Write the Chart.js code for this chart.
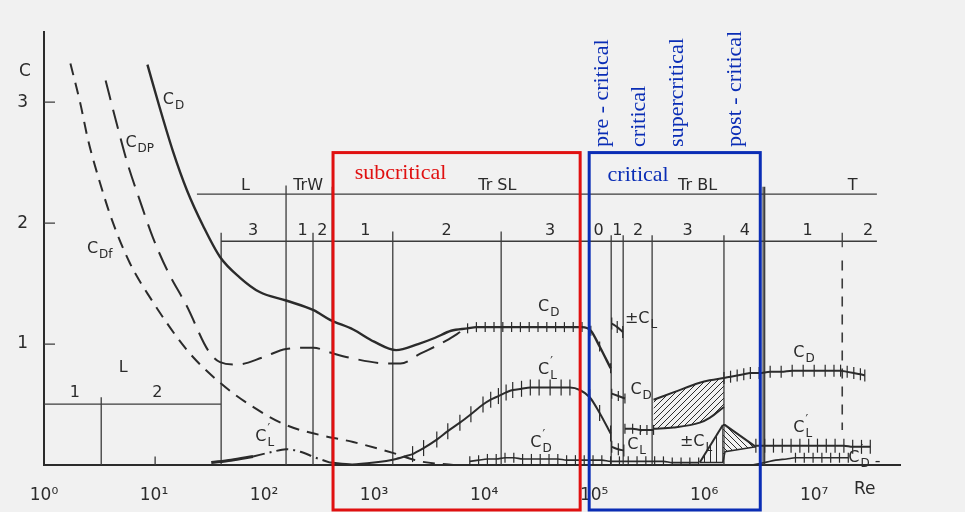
<!DOCTYPE html>
<html>
<head>
<meta charset="utf-8">
<script src="https://cdn.jsdelivr.net/npm/chart.js@4.4.0/dist/chart.umd.min.js"></script>
<style>
    html, body { margin: 0; padding: 0; background: #f1f1f1; }
    canvas { display: block; }
</style>
</head>
<body>
<canvas id="dragChart" width="965" height="512"></canvas>
<script>
/* ------------------------------------------------------------------
   DATA  (x = log10(Re), y = coefficient C)
------------------------------------------------------------------ */
// C_D
const cdLog = [0.94, 1.05, 1.17, 1.30, 1.45, 1.60, 1.78, 1.96, 2.20, 2.45, 2.60, 2.81, 3.00, 3.20, 3.40, 3.55, 3.70, 3.85];
const cdVal = [3.31, 2.96, 2.60, 2.27, 1.97, 1.72, 1.55, 1.43, 1.36, 1.28, 1.20, 1.12, 1.02, 0.95, 1.00, 1.05, 1.11, 1.13];
const cdSubLog = [3.85, 3.93, 4.01, 4.09, 4.17, 4.25, 4.33, 4.41, 4.49, 4.57, 4.65, 4.73, 4.81, 4.89, 4.97, 5.05, 5.15];
const cdSubVal = [1.13, 1.14, 1.14, 1.14, 1.14, 1.14, 1.14, 1.14, 1.14, 1.14, 1.14, 1.14, 1.14, 1.14, 1.11, 0.98, 0.80];
const cdCritLog = [5.16, 5.22, 5.28, 5.28, 5.28, 5.35, 5.42, 5.48, 5.54];
const cdCritVal = [0.59, 0.57, 0.55, null, 0.30, 0.30, 0.29, 0.29, 0.29];
const cdBandLog = [5.54, 5.72, 5.96, 6.05, 6.18];
const cdBandHigh = [0.54, 0.60, 0.68, 0.70, 0.72];
const cdBandLow = [0.30, 0.31, 0.35, 0.39, 0.48];
const cdPostLog = [6.18, 6.24, 6.30, 6.36, 6.42, 6.50, 6.60, 6.70, 6.80, 6.90, 7.00, 7.10, 7.18, 7.24, 7.30, 7.36, 7.42, 7.46];
const cdPostVal = [0.72, 0.73, 0.74, 0.75, 0.76, 0.76, 0.77, 0.77, 0.78, 0.78, 0.78, 0.78, 0.78, 0.78, 0.77, 0.76, 0.75, 0.74];

// C_Dp (pressure) and C_Df (friction)
const cdpLog = [0.56, 0.67, 0.76, 0.87, 0.99, 1.12, 1.30, 1.49, 1.60, 1.75, 1.99, 2.20, 2.45, 2.60, 2.81, 3.12, 3.24, 3.42, 3.66, 3.80];
const cdpVal = [3.18, 2.79, 2.49, 2.19, 1.88, 1.61, 1.31, 0.95, 0.85, 0.83, 0.89, 0.96, 0.97, 0.93, 0.88, 0.84, 0.84, 0.92, 1.03, 1.11];
const cdfLog = [0.24, 0.33, 0.40, 0.51, 0.62, 0.78, 0.96, 1.30, 1.60, 1.90, 2.20, 2.50, 2.81, 3.17, 3.42, 3.72];
const cdfVal = [3.32, 2.99, 2.69, 2.33, 2.02, 1.67, 1.39, 0.95, 0.68, 0.48, 0.33, 0.25, 0.19, 0.10, 0.03, 0.00];

// C'_L
const clLowLog = [1.52, 1.70, 1.90];
const clLowVal = [0.02, 0.04, 0.07];
const clWakeLog = [1.90, 2.08, 2.20, 2.33, 2.47, 2.60];
const clWakeVal = [0.07, 0.11, 0.13, 0.11, 0.06, 0.02];
const clRiseLog = [2.60, 2.80, 3.00, 3.20, 3.35];
const clRiseVal = [0.02, 0.005, 0.02, 0.05, 0.09];
const clSubLog = [3.35, 3.45, 3.57, 3.67, 3.78, 3.88, 3.99, 4.06, 4.13, 4.20, 4.26, 4.34, 4.42, 4.50, 4.60, 4.70, 4.78, 4.87, 4.96, 5.05, 5.15];
const clSubVal = [0.09, 0.14, 0.21, 0.28, 0.35, 0.42, 0.50, 0.54, 0.57, 0.60, 0.62, 0.63, 0.64, 0.64, 0.64, 0.64, 0.64, 0.62, 0.56, 0.43, 0.26];
const clCritLog = [5.16, 5.22, 5.27];
const clCritVal = [0.15, 0.13, 0.12];
const clPostLog = [6.47, 6.55, 6.63, 6.71, 6.79, 6.87, 6.95, 7.03, 7.11, 7.19, 7.27, 7.35, 7.43, 7.51];
const clPostVal = [0.16, 0.16, 0.16, 0.16, 0.16, 0.16, 0.16, 0.16, 0.16, 0.16, 0.16, 0.15, 0.15, 0.15];

// ±C_L
const clPmTopLog = [5.16, 5.21, 5.26];
const clPmTopVal = [1.17, 1.14, 1.10];
const clPmLog = [5.96, 6.17, 6.19, 6.47];
const clPmHigh = [0.02, 0.33, 0.33, 0.15];
const clPmLow = [0.02, 0.02, 0.11, 0.15];

// C'_D
const cdFlucLog = [3.87, 3.95, 4.03, 4.11, 4.19, 4.27, 4.35, 4.43, 4.51, 4.59, 4.67, 4.75, 4.83, 4.91, 4.99, 5.07, 5.15, 5.23, 5.31, 5.39, 5.47, 5.55, 5.63, 5.71, 5.79, 5.87, 5.95];
const cdFlucVal = [0.03, 0.04, 0.05, 0.05, 0.06, 0.06, 0.05, 0.05, 0.05, 0.05, 0.05, 0.04, 0.04, 0.04, 0.04, 0.04, 0.03, 0.03, 0.03, 0.03, 0.03, 0.03, 0.03, 0.02, 0.02, 0.02, 0.02];
const cdFlucPostLog = [6.43, 6.55, 6.65, 6.75, 6.83, 6.91, 6.99, 7.07, 7.15, 7.23, 7.31];
const cdFlucPostVal = [0.00, 0.02, 0.04, 0.05, 0.06, 0.06, 0.06, 0.06, 0.06, 0.06, 0.06];

// flow regimes: boundaries (log Re) and the level (C) where each divider starts
const splitLog = [0.52, 1.61, 2.20, 2.445, 2.62, 3.17, 4.155, 4.955, 5.155, 5.264, 5.527, 6.18, 6.536, 6.55];
const splitTop = [0.56, 1.92, 2.31, 1.92, 2.30, 1.93, 1.93, 2.30, 1.90, 1.90, 1.90, 1.90, 2.30, 2.30];
const rowFrom = [1.39, 1.61, 0.0];
const rowTo = [7.57, 7.57, 1.61];
const rowLevel = [2.24, 1.85, 0.504];

const regimeNames = ['L', 'TrW', 'Tr SL', 'Tr BL', 'T'];
const regimeLog = [1.83, 2.40, 4.12, 5.94, 7.35];
const stageNames = ['3', '1', '2', '1', '2', '3', '0', '1', '2', '3', '4', '1', '2'];
const stageLog = [1.90, 2.35, 2.53, 2.92, 3.66, 4.60, 5.04, 5.21, 5.40, 5.85, 6.37, 6.94, 7.49];

// highlighted ranges (log Re)
const subcriticalRange = [2.627, 4.873];
const criticalRange = [4.955, 6.51];

const xTicks = [0, 1, 2, 3, 4, 5, 6, 7];
const yTicks = [1, 2, 3];

/* ------------------------------------------------------------------
   HELPERS
------------------------------------------------------------------ */
const ink = '#2b2b2b';
const supDigits = ['⁰', '¹', '²', '³', '⁴', '⁵', '⁶', '⁷', '⁸'];
const canvas = document.getElementById('dragChart');
const ctx = canvas.getContext('2d');

function series(logs, vals) {
    return logs.map((v, i) => ({ x: Math.pow(10, v), y: vals[i] }));
}

function hatch(kind) {
    const c = document.createElement('canvas');
    c.width = 6; c.height = 6;
    const g = c.getContext('2d');
    g.strokeStyle = ink;
    g.lineWidth = 1;
    g.beginPath();
    if (kind === 'slash') {
        g.moveTo(0, 6); g.lineTo(6, 0);
        g.moveTo(-1, 1); g.lineTo(1, -1);
        g.moveTo(5, 7); g.lineTo(7, 5);
    } else if (kind === 'back') {
        g.moveTo(0, 0); g.lineTo(6, 6);
        g.moveTo(5, -1); g.lineTo(7, 1);
        g.moveTo(-1, 5); g.lineTo(1, 7);
    } else {
        g.moveTo(2.5, 0); g.lineTo(2.5, 6);
    }
    g.stroke();
    return ctx.createPattern(c, 'repeat');
}

const plain = {
    borderColor: ink, backgroundColor: ink, borderWidth: 2,
    pointRadius: 0, fill: false, cubicInterpolationMode: 'monotone'
};
const marked = (r) => ({
    ...plain, pointStyle: 'line', rotation: 90, pointRadius: r,
    pointBorderWidth: 1.2, pointBorderColor: ink
});

const vertPattern = hatch('vert');
const backPattern = hatch('back');

/* ------------------------------------------------------------------
   ANNOTATIONS
------------------------------------------------------------------ */
const curveNotes = [
    { lg: 1.08, c: 3.02, sub: 'D' },
    { lg: 0.74, c: 2.66, sub: 'DP' },
    { lg: 0.39, c: 1.79, sub: 'Df' },
    { lg: 1.92, c: 0.23, sub: 'L', prime: true },
    { lg: 4.49, c: 1.31, sub: 'D' },
    { lg: 4.49, c: 0.79, sub: 'L', prime: true },
    { lg: 4.42, c: 0.18, sub: 'D', prime: true },
    { lg: 5.28, c: 1.21, sub: 'L', prefix: '±' },
    { lg: 5.33, c: 0.62, sub: 'D' },
    { lg: 5.30, c: 0.17, sub: 'L', prime: true },
    { lg: 5.78, c: 0.19, sub: 'L', prefix: '±' },
    { lg: 6.81, c: 0.93, sub: 'D' },
    { lg: 6.81, c: 0.31, sub: 'L', prime: true },
    { lg: 7.31, c: 0.06, sub: 'D', prime: true, suffix: ' -' }
];

const rotatedNotes = [
    { lg: 5.07, text: 'pre - critical' },
    { lg: 5.41, text: 'critical' },
    { lg: 5.755, text: 'supercritical' },
    { lg: 6.28, text: 'post - critical' }
];

function coefLabel(g, x, y, note) {
    let cx = x;
    g.textAlign = 'left';
    g.textBaseline = 'middle';
    g.font = '16px "DejaVu Sans"';
    if (note.prefix) {
        g.fillText(note.prefix, cx, y);
        cx += g.measureText(note.prefix).width;
    }
    g.fillText('C', cx, y);
    cx += g.measureText('C').width + 1;
    g.font = '12px "DejaVu Sans"';
    g.fillText(note.sub, cx, y + 6);
    if (note.prime) g.fillText('′', cx, y - 8);
    if (note.suffix) {
        const w = g.measureText(note.sub).width;
        g.font = '16px "DejaVu Sans"';
        g.fillText(note.suffix, cx + w, y + 4);
    }
}

// -------------------------------
// regime grid under the curves
// -------------------------------
const regimeGrid = {
    id: 'regimeGrid',
    beforeDatasetsDraw(chart) {
        const g = chart.ctx;
        const xs = chart.scales.x, ys = chart.scales.y;
        const px = lg => xs.getPixelForValue(Math.pow(10, lg));
        const py = c => ys.getPixelForValue(c);
        g.save();
        g.strokeStyle = '#3c3c3c';
        g.lineWidth = 1.3;
        g.beginPath();
        rowLevel.forEach((lvl, i) => {
            g.moveTo(px(rowFrom[i]), py(lvl));
            g.lineTo(px(rowTo[i]), py(lvl));
        });
        splitLog.forEach((lg, i) => {
            g.moveTo(px(lg), py(splitTop[i]));
            g.lineTo(px(lg), py(0));
        });
        // small marks: 10^1 on the axis, T1 / T2 split
        g.moveTo(px(1.01), py(0)); g.lineTo(px(1.01), py(0.07));
        g.moveTo(px(7.255), py(1.92)); g.lineTo(px(7.255), py(1.80));
        // inner ticks of the C axis
        yTicks.forEach(v => {
            g.moveTo(chart.chartArea.left, py(v));
            g.lineTo(chart.chartArea.left + 11, py(v));
        });
        g.stroke();
        // dashed marker at the end of the transcritical data
        g.setLineDash([10, 8]);
        g.lineWidth = 1.6;
        g.beginPath();
        g.moveTo(px(7.255), py(1.69));
        g.lineTo(px(7.255), py(0.29));
        g.stroke();
        g.setLineDash([]);

        g.fillStyle = ink;
        g.textAlign = 'center';
        g.textBaseline = 'middle';
        g.font = '16px "DejaVu Sans"';
        regimeNames.forEach((t, i) => g.fillText(t, px(regimeLog[i]), py(2.31)));
        stageNames.forEach((t, i) => g.fillText(t, px(stageLog[i]), py(1.94)));
        g.fillText('L', px(0.72), py(0.80));
        g.fillText('1', px(0.28), py(0.60));
        g.fillText('2', px(1.03), py(0.60));
        g.restore();
    }
};

// -------------------------------
// boxes, names and axis titles on top
// -------------------------------
const overlay = {
    id: 'overlay',
    afterDraw(chart) {
        const g = chart.ctx;
        const xs = chart.scales.x, ys = chart.scales.y;
        const px = lg => xs.getPixelForValue(Math.pow(10, lg));
        const py = c => ys.getPixelForValue(c);
        g.save();
        g.fillStyle = ink;
        curveNotes.forEach(n => coefLabel(g, px(n.lg), py(n.c), n));

        g.font = '17px "DejaVu Sans"';
        g.textAlign = 'center';
        g.textBaseline = 'middle';
        g.fillText('C', chart.chartArea.left - 19, py(3.25));
        g.fillText('Re', px(7.46), py(0) + 25);

        g.lineWidth = 3;
        g.strokeStyle = '#e01010';
        g.strokeRect(px(subcriticalRange[0]), py(2.583), px(subcriticalRange[1]) - px(subcriticalRange[0]), py(-0.372) - py(2.583));
        g.strokeStyle = '#0a2db5';
        g.strokeRect(px(criticalRange[0]), py(2.583), px(criticalRange[1]) - px(criticalRange[0]), py(-0.372) - py(2.583));

        g.font = '22px "Liberation Serif"';
        g.fillStyle = '#e01010';
        g.fillText('subcritical', px(3.24), py(2.41));
        g.fillStyle = '#0a2db5';
        g.fillText('critical', px(5.40), py(2.40));
        g.textAlign = 'left';
        rotatedNotes.forEach(n => {
            g.save();
            g.translate(px(n.lg), py(2.63));
            g.rotate(-Math.PI / 2);
            g.fillText(n.text, 0, 0);
            g.restore();
        });
        g.restore();
    }
};

/* ------------------------------------------------------------------
   CHART
------------------------------------------------------------------ */
new Chart(ctx, {
    type: 'line',
    data: {
        datasets: [
            { ...plain, data: series(cdLog, cdVal), borderWidth: 2.4 },
            { ...marked(5), data: series(cdSubLog, cdSubVal), borderWidth: 2.4 },
            { ...marked(5), data: series(cdCritLog, cdCritVal) },
            { ...plain, data: series(cdBandLog, cdBandHigh), fill: '+1', backgroundColor: hatch('slash') },
            { ...plain, data: series(cdBandLog, cdBandLow) },
            { ...marked(6), data: series(cdPostLog, cdPostVal) },
            { ...plain, data: series(cdpLog, cdpVal), borderDash: [20, 10] },
            { ...plain, data: series(cdfLog, cdfVal), borderDash: [12, 8] },
            { ...plain, data: series(clLowLog, clLowVal), borderWidth: 3 },
            { ...plain, data: series(clWakeLog, clWakeVal), borderDash: [12, 5, 2, 5] },
            { ...plain, data: series(clRiseLog, clRiseVal) },
            { ...marked(8), data: series(clSubLog, clSubVal) },
            { ...marked(6), data: series(clCritLog, clCritVal) },
            { ...marked(7), data: series(clPostLog, clPostVal) },
            { ...marked(6), data: series(clPmTopLog, clPmTopVal) },
            {
                ...plain, data: series(clPmLog, clPmHigh), fill: '+1', backgroundColor: vertPattern,
                cubicInterpolationMode: 'default', tension: 0,
                segment: { backgroundColor: c => (c.p0DataIndex === 0 ? vertPattern : backPattern) }
            },
            { ...plain, data: series(clPmLog, clPmLow), borderWidth: 1.5, cubicInterpolationMode: 'default', tension: 0 },
            { ...marked(5), data: series(cdFlucLog, cdFlucVal), borderWidth: 1.6 },
            { ...marked(5), data: series(cdFlucPostLog, cdFlucPostVal), borderWidth: 1.6,
              pointRadius: cdFlucPostLog.map(v => (v > 6.8 ? 5 : 0)) }
        ]
    },
    options: {
        responsive: false,
        animation: false,
        devicePixelRatio: 1,
        layout: { padding: { top: 32, right: 65, left: 0, bottom: 0 } },
        plugins: { legend: { display: false }, tooltip: { enabled: false } },
        scales: {
            x: {
                type: 'logarithmic',
                min: 1,
                max: Math.pow(10, 7.78),
                grid: { display: false },
                border: { color: ink, width: 2 },
                afterBuildTicks: s => { s.ticks = xTicks.map(e => ({ value: Math.pow(10, e) })); },
                afterFit: s => { s.height = 47; },
                ticks: {
                    color: ink,
                    padding: 12,
                    maxRotation: 0,
                    font: { family: 'DejaVu Sans', size: 17 },
                    callback: v => '10' + supDigits[Math.round(Math.log10(v))]
                }
            },
            y: {
                min: 0,
                max: 3.58,
                grid: { display: false },
                border: { color: ink, width: 2 },
                afterBuildTicks: s => { s.ticks = yTicks.map(v => ({ value: v })); },
                afterFit: s => { s.width = 44; },
                ticks: {
                    color: ink,
                    padding: 8,
                    font: { family: 'DejaVu Sans', size: 17 }
                }
            }
        }
    },
    plugins: [regimeGrid, overlay]
});
</script>
</body>
</html>
